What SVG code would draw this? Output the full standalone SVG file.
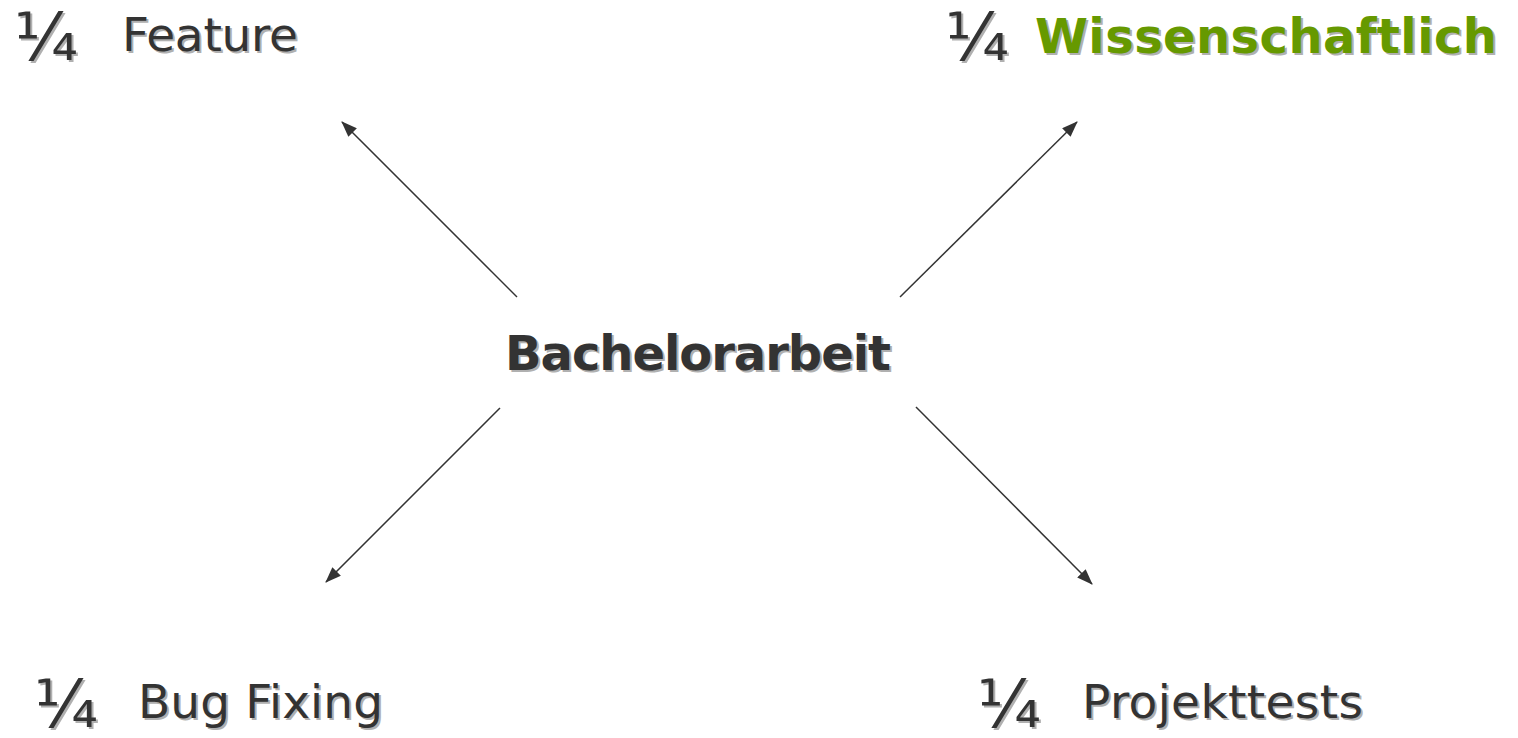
<svg xmlns="http://www.w3.org/2000/svg" width="1518" height="738" viewBox="0 0 1518 738">
<defs>
<marker id="ah" markerUnits="userSpaceOnUse" markerWidth="16" markerHeight="12" refX="15" refY="6" orient="auto">
<path d="M0,0 L16,6 L0,12 Z" fill="#333"/>
</marker>
<style>
.t{font-family:"DejaVu Sans",Verdana,sans-serif;fill:#333}
.s{fill:#b0b0b0}
.b{font-weight:bold}
.g{fill:#669900}
.f{font-size:66px}
.n{font-size:47px}
.m{font-size:48px}
.c{stroke:#333;stroke-width:1.5;fill:none;marker-end:url(#ah)}
</style>
</defs>
<rect width="1518" height="738" fill="#fff"/>
<g id="connectors">
<line class="c" x1="517" y1="297" x2="342" y2="122"/>
<line class="c" x1="900" y1="297" x2="1077" y2="122"/>
<line class="c" x1="500" y1="408" x2="326" y2="582"/>
<line class="c" x1="916" y1="407" x2="1092" y2="584"/>
</g>
<g id="center">
<text class="t s b m" x="507" y="372" textLength="386" lengthAdjust="spacing">Bachelorarbeit</text>
<text class="t b m" x="505" y="370" textLength="386" lengthAdjust="spacing">Bachelorarbeit</text>
</g>
<g id="feature">
<text class="t s f" x="16" y="62">¼</text>
<text class="t f" x="14" y="60">¼</text>
<text class="t s n" x="124" y="53" textLength="176" lengthAdjust="spacing">Feature</text>
<text class="t n" x="122" y="51" textLength="176" lengthAdjust="spacing">Feature</text>
</g>
<g id="wissenschaftlich">
<text class="t s f" x="947" y="62">¼</text>
<text class="t f" x="945" y="60">¼</text>
<text class="t s b m" x="1037" y="55" textLength="462" lengthAdjust="spacing">Wissenschaftlich</text>
<text class="t b g m" x="1035" y="53" textLength="462" lengthAdjust="spacing">Wissenschaftlich</text>
</g>
<g id="bugfixing">
<text class="t s f" x="36" y="729">¼</text>
<text class="t f" x="34" y="727">¼</text>
<text class="t s n" x="140" y="720" textLength="245" lengthAdjust="spacing">Bug Fixing</text>
<text class="t n" x="138" y="718" textLength="245" lengthAdjust="spacing">Bug Fixing</text>
</g>
<g id="projekttests">
<text class="t s f" x="979" y="729">¼</text>
<text class="t f" x="977" y="727">¼</text>
<text class="t s n" x="1084" y="720" textLength="281" lengthAdjust="spacing">Projekttests</text>
<text class="t n" x="1082" y="718" textLength="281" lengthAdjust="spacing">Projekttests</text>
</g>
</svg>
